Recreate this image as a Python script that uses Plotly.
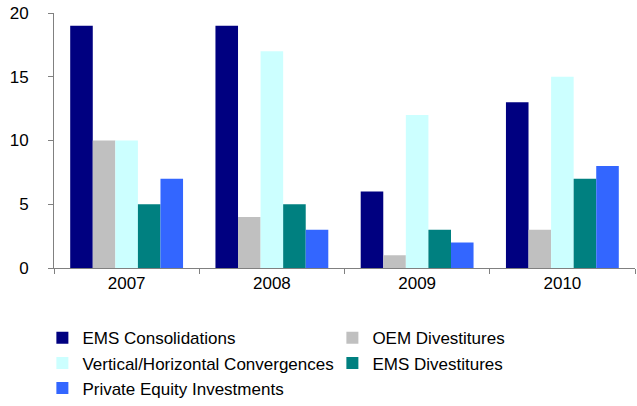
import plotly.graph_objects as go

years = ["2007", "2008", "2009", "2010"]
series_names = ["EMS Consolidations", "OEM Divestitures", "Vertical/Horizontal Convergences",
                "EMS Divestitures", "Private Equity Investments"]
ems_consolidations = [19, 19, 6, 13]
oem_divestitures = [10, 4, 1, 3]
vh_convergences = [10, 17, 12, 15]
ems_divestitures = [5, 5, 3, 7]
pe_investments = [7, 3, 2, 8]
colors = ["#000080", "#C0C0C0", "#CCFFFF", "#008080", "#3366FF"]

values = [ems_consolidations, oem_divestitures, vh_convergences, ems_divestitures, pe_investments]

fig = go.Figure()
for name, vals, c in zip(series_names, values, colors):
    fig.add_trace(go.Bar(x=years, y=vals, name=name, marker=dict(color=c, line=dict(width=0))))

fig.update_layout(
    width=637, height=406,
    margin=dict(l=54, r=2, t=13, b=138, autoexpand=False),
    barmode="group", bargap=0.223, bargroupgap=0,
    plot_bgcolor="white", paper_bgcolor="white",
    font=dict(family="Liberation Sans, Arial, sans-serif", size=17, color="black"),
    legend=dict(orientation="h", x=-0.02, y=-0.205, xanchor="left", yanchor="top",
                entrywidth=245, entrywidthmode="pixels", tracegroupgap=0,
                font=dict(size=17), traceorder="normal"),
    showlegend=True,
)
fig.update_xaxes(showline=True, linecolor="#808080", linewidth=1, ticks="outside",
                 tickson="boundaries", ticklen=5, tickcolor="#808080", showgrid=False)
fig.update_yaxes(range=[0, 20], tickvals=[0, 5, 10, 15, 20], showline=True, linecolor="#808080",
                 linewidth=1, ticks="outside", ticklen=5, tickcolor="#808080", showgrid=False,
                 zeroline=False, ticklabelstandoff=16)

fig.write_html("out.html", config={"displayModeBar": False},
               post_script="document.body.style.margin='0px';document.body.style.overflow='hidden';")
